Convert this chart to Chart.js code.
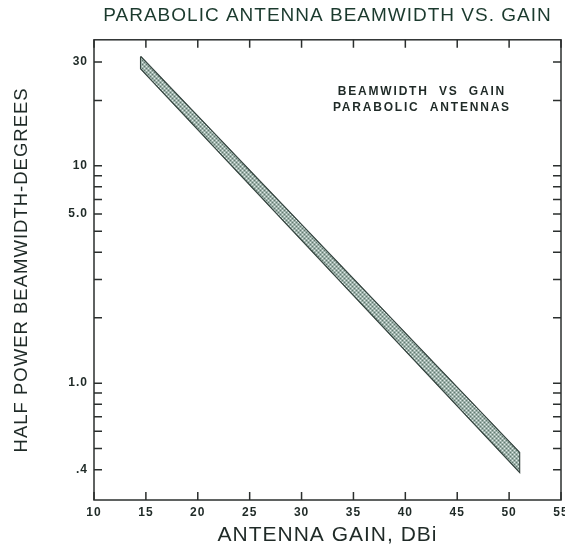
<!DOCTYPE html>
<html>
<head>
<meta charset="utf-8">
<script src="https://cdn.jsdelivr.net/npm/chart.js@4.4.1/dist/chart.umd.min.js"></script>
<style>
  html, body { margin: 0; padding: 0; background: #fff; }
</style>
</head>
<body>
<canvas id="chart" width="565" height="548"></canvas>
<script>
// axis values
const gainTicks = [10, 15, 20, 25, 30, 35, 40, 45, 50, 55];
const beamTicks = [0.4, 0.5, 0.6, 0.7, 0.8, 0.9, 1, 2, 3, 4, 5, 6, 7, 8, 9, 10, 20, 30];
// the original sheet prints "5.0" on the 6 degree mark
const beamLabels = { 30: "30", 10: "10", 6: "5.0", 1: "1.0", 0.4: ".4" };

// the shaded band: gain (dBi) at both ends, upper and lower beamwidth (deg)
const bandGain = [14.5, 51];
const bandUpper = [31.8, 0.48];
const bandLower = [28.0, 0.39];

const noteLines = ["BEAMWIDTH  VS  GAIN", "PARABOLIC  ANTENNAS"];
const noteGain = 41.6;
const noteBeam = [21.9, 18.6];

const ink = "#1f2a27";

function stipple() {
    const c = document.createElement("canvas");
    c.width = 4;
    c.height = 4;
    const g = c.getContext("2d");
    g.fillStyle = "#9db1aa";
    g.fillRect(0, 0, 4, 4);
    g.fillStyle = "#e2ebe8";
    g.fillRect(0, 0, 1, 1);
    g.fillRect(2, 2, 1, 1);
    g.fillStyle = "#62786f";
    g.fillRect(2, 0, 1, 1);
    g.fillRect(0, 2, 1, 1);
    return g.createPattern(c, "repeat");
}

const pts = (ys) => bandGain.map((g, i) => ({ x: g, y: ys[i] }));
const upper = pts(bandUpper);
const lower = pts(bandLower);

// slightly wide lettering like the drafting stencils on the sheet
const spacing = {
    id: "spacing",
    beforeDraw(chart) { chart.ctx.letterSpacing = "1px"; },
    afterDraw(chart) { chart.ctx.letterSpacing = "0px"; }
};

// frame with inward ticks on all four sides
const frame = {
    id: "frame",
    afterDraw(chart) {
        const { ctx, chartArea: a, scales } = chart;
        const len = 8;
        ctx.save();
        ctx.strokeStyle = "#2b2f2e";
        ctx.lineWidth = 1.5;
        ctx.strokeRect(a.left, a.top, a.right - a.left, a.bottom - a.top);
        ctx.beginPath();
        gainTicks.forEach(v => {
            const px = scales.x.getPixelForValue(v);
            ctx.moveTo(px, a.bottom); ctx.lineTo(px, a.bottom - len);
            ctx.moveTo(px, a.top); ctx.lineTo(px, a.top + len);
        });
        beamTicks.forEach(v => {
            const py = scales.y.getPixelForValue(v);
            ctx.moveTo(a.left, py); ctx.lineTo(a.left + len, py);
            ctx.moveTo(a.right, py); ctx.lineTo(a.right - len, py);
        });
        ctx.stroke();

        // note in the upper right
        ctx.fillStyle = ink;
        ctx.font = "bold 12px 'Liberation Sans'";
        ctx.textAlign = "center";
        ctx.textBaseline = "middle";
        ctx.letterSpacing = "1.8px";
        noteLines.forEach((t, i) => {
            ctx.fillText(t, scales.x.getPixelForValue(noteGain), scales.y.getPixelForValue(noteBeam[i]));
        });
        ctx.restore();
    }
};

new Chart(document.getElementById("chart"), {
    type: "line",
    data: {
        datasets: [
            {
                data: upper,
                borderColor: "#34443f",
                borderWidth: 1,
                pointRadius: 0,
                fill: false
            },
            {
                data: lower,
                borderColor: "#34443f",
                borderWidth: 1,
                pointRadius: 0,
                backgroundColor: stipple(),
                fill: "-1"
            },
            {
                data: [upper[0], upper[1], lower[1], lower[0], upper[0]],
                borderColor: "#2c3a36",
                borderWidth: 1.5,
                pointRadius: 0,
                fill: false
            }
        ]
    },
    options: {
        responsive: false,
        animation: false,
        layout: { padding: { right: 4 } },
        plugins: {
            legend: { display: false },
            tooltip: { enabled: false },
            title: {
                display: true,
                fullSize: false,
                text: "PARABOLIC ANTENNA BEAMWIDTH VS. GAIN",
                color: "#1b3a2e",
                font: { family: "Liberation Sans", size: 19, weight: "normal" },
                padding: { top: 4, bottom: 13 }
            }
        },
        scales: {
            x: {
                type: "linear",
                min: 10,
                max: 55,
                afterBuildTicks: s => { s.ticks = gainTicks.map(v => ({ value: v })); },
                afterFit: s => { s.height = 48; s.paddingLeft = 0; s.paddingRight = 0; },
                grid: { display: false, tickLength: 0 },
                border: { display: false },
                ticks: {
                    autoSkip: false,
                    maxRotation: 0,
                    padding: 5,
                    color: ink,
                    font: { family: "Liberation Sans", size: 12, weight: "bold" },
                    callback: v => String(v)
                },
                title: {
                    display: true,
                    text: "ANTENNA GAIN, DBi",
                    color: ink,
                    font: { family: "Liberation Sans", size: 21 },
                    padding: { top: 0, bottom: 0 }
                }
            },
            y: {
                type: "logarithmic",
                min: 0.29,
                max: 38,
                afterBuildTicks: s => { s.ticks = beamTicks.map(v => ({ value: v })); },
                afterFit: s => { s.width = 94; s.paddingTop = 0; s.paddingBottom = 0; },
                grid: { display: false, tickLength: 0 },
                border: { display: false },
                ticks: {
                    autoSkip: false,
                    padding: 6,
                    color: ink,
                    font: { family: "Liberation Sans", size: 12, weight: "bold" },
                    callback: v => beamLabels[v] || ""
                },
                title: {
                    display: true,
                    text: "HALF POWER BEAMWIDTH-DEGREES",
                    color: ink,
                    font: { family: "Liberation Sans", size: 18.5 },
                    padding: { top: 11, bottom: 0 }
                }
            }
        }
    },
    plugins: [spacing, frame]
});
</script>
</body>
</html>
